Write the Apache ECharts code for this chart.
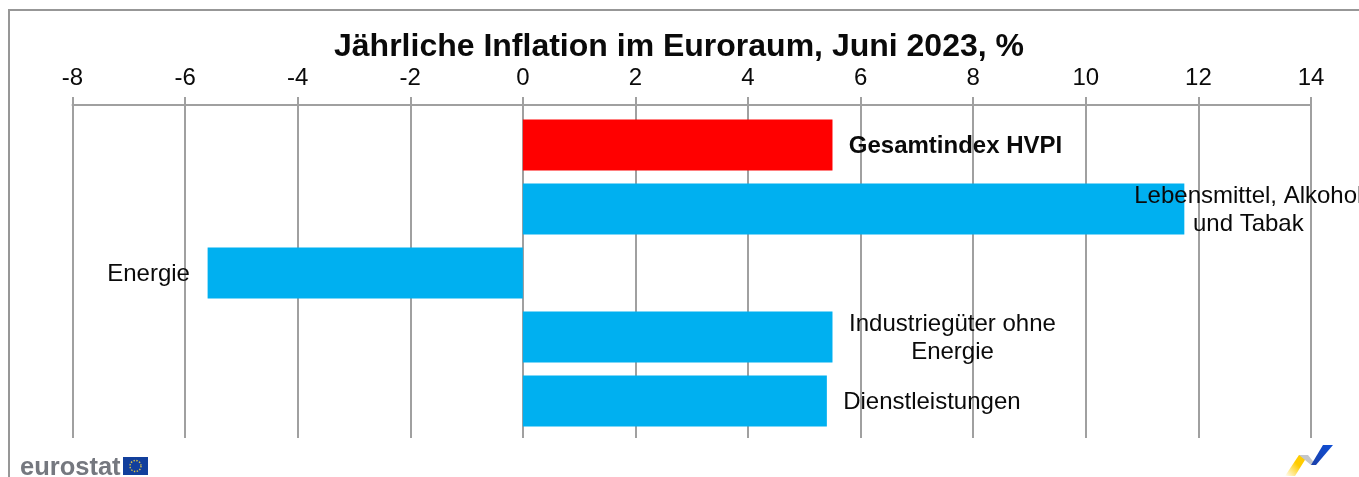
<!DOCTYPE html>
<html>
<head>
    <meta charset="UTF-8">
    <title>Jährliche Inflation im Euroraum</title>
    <script src="https://cdn.jsdelivr.net/npm/echarts@6/dist/echarts.min.js"></script>
    <style>
        html, body { margin: 0; padding: 0; background: #fff; overflow: hidden; }
    </style>
</head>
<body>
    <div id="chart" style="width:1359px; height:477px;"></div>

    <script>
        var categories = ['Gesamtindex HVPI', 'Lebensmittel, Alkohol\nund Tabak', 'Energie', 'Industriegüter ohne\nEnergie', 'Dienstleistungen'];
        var inflation = [5.5, 11.75, -5.6, 5.5, 5.4];
        var axisMin = -8;
        var axisMax = 14;
        var axisStep = 2;

        var FONT = '"Liberation Sans", Arial, sans-serif';
        var GREY = '#a0a0a0';

        // label offset from the end of each bar, text is centred on it
        var labelDistance = [123, 64, 59, 120, 105];

        var chart = echarts.init(document.getElementById('chart'), null, {renderer: 'canvas'});

        var barData = inflation.map(function (v, i) {
            return {
                value: v,
                itemStyle: {color: i === 0 ? '#ff0000' : '#00b0f0'},
                label: {
                    show: true,
                    position: v < 0 ? 'left' : 'right',
                    distance: labelDistance[i],
                    align: 'center',
                    verticalAlign: 'middle',
                    offset: [0, 1],
                    formatter: categories[i],
                    fontFamily: FONT,
                    fontSize: 24,
                    fontWeight: i === 0 ? 'bold' : 'normal',
                    lineHeight: 28,
                    color: '#0a0a0a'
                }
            };
        });

        chart.setOption({
            animation: false,
            backgroundColor: '#fff',
            title: {
                text: 'Jährliche Inflation im Euroraum, Juni 2023, %',
                left: 674,
                top: 26,
                textAlign: 'center',
                textStyle: {fontFamily: FONT, fontSize: 32, fontWeight: 'bold', color: '#0a0a0a'}
            },
            // first grid carries the visible axis, second one holds the bars
            grid: [
                {left: 72.5, top: 105, width: 1238.5, height: 333},
                {left: 72.5, top: 113, width: 1238.5, height: 320}
            ],
            xAxis: [
                {
                    gridIndex: 0, type: 'value', position: 'top',
                    min: axisMin, max: axisMax, interval: axisStep,
                    axisLine: {show: true, onZero: false, lineStyle: {color: GREY, width: 2}},
                    axisTick: {show: true, length: 8, lineStyle: {color: GREY, width: 2}},
                    axisLabel: {fontFamily: FONT, fontSize: 24, color: '#0a0a0a', margin: 15},
                    splitLine: {show: true, lineStyle: {color: GREY, width: 2}}
                },
                {
                    gridIndex: 1, type: 'value', position: 'top',
                    min: axisMin, max: axisMax, interval: axisStep,
                    axisLine: {show: false}, axisTick: {show: false},
                    axisLabel: {show: false}, splitLine: {show: false}
                }
            ],
            yAxis: [
                {
                    gridIndex: 0, type: 'value', min: 0, max: 1, show: false
                },
                {
                    gridIndex: 1, type: 'category', inverse: true, data: categories,
                    axisLine: {show: false}, axisTick: {show: false},
                    axisLabel: {show: false}, splitLine: {show: false}
                }
            ],
            series: [
                {
                    type: 'bar',
                    xAxisIndex: 1,
                    yAxisIndex: 1,
                    barWidth: 51,
                    data: barData
                }
            ],
            graphic: [
                // outer frame
                {type: 'polyline', silent: true, shape: {points: [[9, 477], [9, 10], [1359, 10]]}, style: {stroke: '#979797', lineWidth: 2, fill: null}},
                // eurostat logo
                {type: 'text', silent: true, left: 20, top: 455, style: {text: 'eurostat', fontFamily: FONT, fontSize: 25.5, fontWeight: 'bold', fill: '#75787f'}},
                {type: 'rect', silent: true, shape: {x: 123, y: 457, width: 25, height: 18}, style: {fill: '#123f9c'}},
                {type: 'circle', silent: true, shape: {cx: 135.5, cy: 466, r: 5.5}, style: {fill: null, stroke: '#d8c24a', lineWidth: 1.4, lineDash: [1.4, 1.5]}},
                // mark bottom right
                {type: 'polygon', silent: true, shape: {points: [[1285, 476], [1299, 455], [1308, 455], [1295, 476]]}, style: {fill: {type: 'linear', x: 0, y: 1, x2: 1, y2: 0, colorStops: [{offset: 0, color: 'rgba(255,204,0,0)'}, {offset: 0.55, color: '#ffcc00'}, {offset: 1, color: '#ffcc00'}]}}},
                {type: 'polygon', silent: true, shape: {points: [[1299, 455], [1308, 455], [1316, 465], [1311, 465]]}, style: {fill: '#c4c6ca'}},
                {type: 'polygon', silent: true, shape: {points: [[1311, 465], [1323, 445], [1333, 445], [1316, 465]]}, style: {fill: {type: 'linear', x: 0, y: 1, x2: 1, y2: 0, colorStops: [{offset: 0, color: '#1a3fa8'}, {offset: 1, color: '#0f4fd6'}]}}}
            ]
        });
    </script>
</body>
</html>
